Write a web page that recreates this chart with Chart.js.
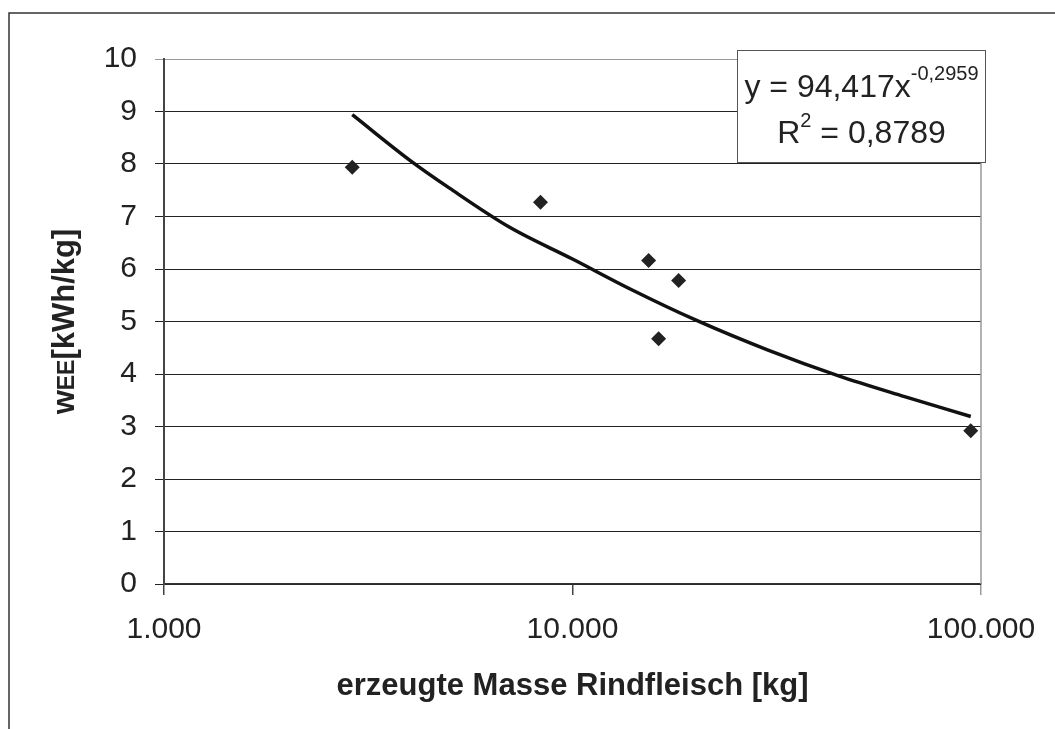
<!DOCTYPE html>
<html>
<head>
<meta charset="utf-8">
<script src="https://cdn.jsdelivr.net/npm/chart.js"></script>
<style>
    html, body { margin: 0; padding: 0; background: #fff; }
    #wrap { width: 1055px; height: 729px; }
</style>
</head>
<body>
<div id="wrap"><canvas id="massChart" width="1055" height="729"></canvas></div>
<script>
// measured values
const massKg = [2890, 8350, 15360, 16250, 18190, 94400];
const energyWEE = [7.94, 7.27, 6.16, 4.67, 5.78, 2.92];

// trend curve
const trendMass = [2890, 4000, 5000, 7000, 10000, 14000, 20000, 30000, 45000, 65000, 94400];
const trendWEE = [8.94, 8.07, 7.54, 6.80, 6.19, 5.60, 5.03, 4.46, 3.96, 3.57, 3.19];

const xTickValues = [1000, 10000, 100000];
const xTickLabels = ["1.000", "10.000", "100.000"];

const xTitle = "erzeugte Masse Rindfleisch [kg]";
const yTitleParts = ["w", "EE", "[kWh/kg]"];
const eqMain = "y = 94,417x";
const eqExp = "-0,2959";
const r2Parts = ["R", "2", " = 0,8789"];

const FONT = "'Liberation Sans', Arial, sans-serif";
const INK = "#222";

// white background + outer frame
const framePlugin = {
    id: "frame",
    beforeDraw(chart) {
        const ctx = chart.ctx;
        ctx.save();
        ctx.fillStyle = "#fff";
        ctx.fillRect(0, 0, chart.width, chart.height);
        ctx.strokeStyle = "#333";
        ctx.lineWidth = 1.5;
        ctx.beginPath();
        ctx.moveTo(9, chart.height);
        ctx.lineTo(9, 13);
        ctx.lineTo(chart.width, 13);
        ctx.stroke();
        ctx.restore();
    },
    beforeDatasetsDraw(chart) {
        const a = chart.chartArea;
        const ctx = chart.ctx;
        ctx.save();
        ctx.strokeStyle = "#999";
        ctx.lineWidth = 1.5;
        ctx.beginPath();
        ctx.moveTo(a.right, a.top);
        ctx.lineTo(a.right, a.bottom);
        ctx.stroke();
        ctx.restore();
    }
};

// y title with small "EE"
const yTitlePlugin = {
    id: "yTitle",
    afterDraw(chart) {
        const a = chart.chartArea;
        const ctx = chart.ctx;
        const fonts = ["bold 31px " + FONT, "bold 23px " + FONT, "bold 31px " + FONT];
        ctx.save();
        let total = 0;
        const widths = yTitleParts.map((t, i) => {
            ctx.font = fonts[i];
            const w = ctx.measureText(t).width;
            total += w;
            return w;
        });
        ctx.translate(74, (a.top + a.bottom) / 2);
        ctx.rotate(-Math.PI / 2);
        ctx.fillStyle = INK;
        ctx.textBaseline = "alphabetic";
        ctx.textAlign = "left";
        let x = -total / 2;
        yTitleParts.forEach((t, i) => {
            ctx.font = fonts[i];
            ctx.fillText(t, x, 0);
            x += widths[i];
        });
        ctx.restore();
    }
};

// equation box
const equationPlugin = {
    id: "equation",
    afterDraw(chart) {
        const ctx = chart.ctx;
        const box = { x: 737.5, y: 50.5, w: 248, h: 112 };
        const cx = box.x + box.w / 2;
        ctx.save();
        ctx.fillStyle = "#fff";
        ctx.fillRect(box.x, box.y, box.w, box.h);
        ctx.strokeStyle = "#555";
        ctx.lineWidth = 1;
        ctx.strokeRect(box.x, box.y, box.w, box.h);
        ctx.fillStyle = INK;
        ctx.textAlign = "left";
        ctx.textBaseline = "alphabetic";

        const big = "32px " + FONT;
        const small = "20px " + FONT;

        // line 1
        ctx.font = big;
        const w1 = ctx.measureText(eqMain).width;
        ctx.font = small;
        const w2 = ctx.measureText(eqExp).width;
        let x = cx - (w1 + w2) / 2;
        ctx.font = big;
        ctx.fillText(eqMain, x, 97);
        ctx.font = small;
        ctx.fillText(eqExp, x + w1, 80);

        // line 2
        const fonts = [big, small, big];
        const ys = [143, 127, 143];
        let total = 0;
        const ws = r2Parts.map((t, i) => {
            ctx.font = fonts[i];
            const w = ctx.measureText(t).width;
            total += w;
            return w;
        });
        x = cx - total / 2;
        r2Parts.forEach((t, i) => {
            ctx.font = fonts[i];
            ctx.fillText(t, x, ys[i]);
            x += ws[i];
        });
        ctx.restore();
    }
};

const ctx = document.getElementById("massChart").getContext("2d");

new Chart(ctx, {
    data: {
        datasets: [
            {
                type: "line",
                label: "Trend",
                data: trendMass.map((m, i) => ({ x: m, y: trendWEE[i] })),
                borderColor: "#111",
                borderWidth: 3.5,
                pointRadius: 0,
                cubicInterpolationMode: "monotone",
                fill: false
            },
            {
                type: "scatter",
                label: "wEE",
                data: massKg.map((m, i) => ({ x: m, y: energyWEE[i] })),
                pointStyle: "rectRot",
                pointRadius: 7.5,
                backgroundColor: INK,
                borderColor: INK,
                borderWidth: 0
            }
        ]
    },
    options: {
        responsive: false,
        animation: false,
        layout: {
            padding: { top: 59, right: 74, left: 0, bottom: 0 }
        },
        plugins: {
            legend: { display: false },
            tooltip: { enabled: false }
        },
        scales: {
            x: {
                type: "logarithmic",
                min: 1000,
                max: 100000,
                afterBuildTicks: (scale) => {
                    scale.ticks = xTickValues.map(v => ({ value: v, major: true }));
                },
                afterFit: (scale) => { scale.height = 145; },
                grid: {
                    drawOnChartArea: false,
                    drawTicks: true,
                    tickLength: 11,
                    color: (c) => (c.tick && c.tick.value === 100000 ? "#999" : "#444"),
                    lineWidth: 1.5
                },
                border: { display: true, color: "#333", width: 1.5 },
                ticks: {
                    autoSkip: false,
                    maxRotation: 0,
                    padding: 17,
                    color: INK,
                    font: { family: FONT, size: 30 },
                    callback: (v, i) => xTickLabels[i]
                },
                title: {
                    display: true,
                    text: xTitle,
                    color: INK,
                    font: { family: FONT, size: 31, weight: "bold" },
                    padding: { top: 0, bottom: 24 }
                }
            },
            y: {
                type: "linear",
                min: 0,
                max: 10,
                afterFit: (scale) => { scale.width = 164; },
                grid: {
                    color: (c) => (c.tick && c.tick.value === 10 ? "#999" : "#222"),
                    lineWidth: 1,
                    tickLength: 9
                },
                border: { display: true, color: "#444", width: 2 },
                ticks: {
                    stepSize: 1,
                    padding: 18,
                    color: INK,
                    font: { family: FONT, size: 30 }
                }
            }
        }
    },
    plugins: [framePlugin, yTitlePlugin, equationPlugin]
});
</script>
</body>
</html>
